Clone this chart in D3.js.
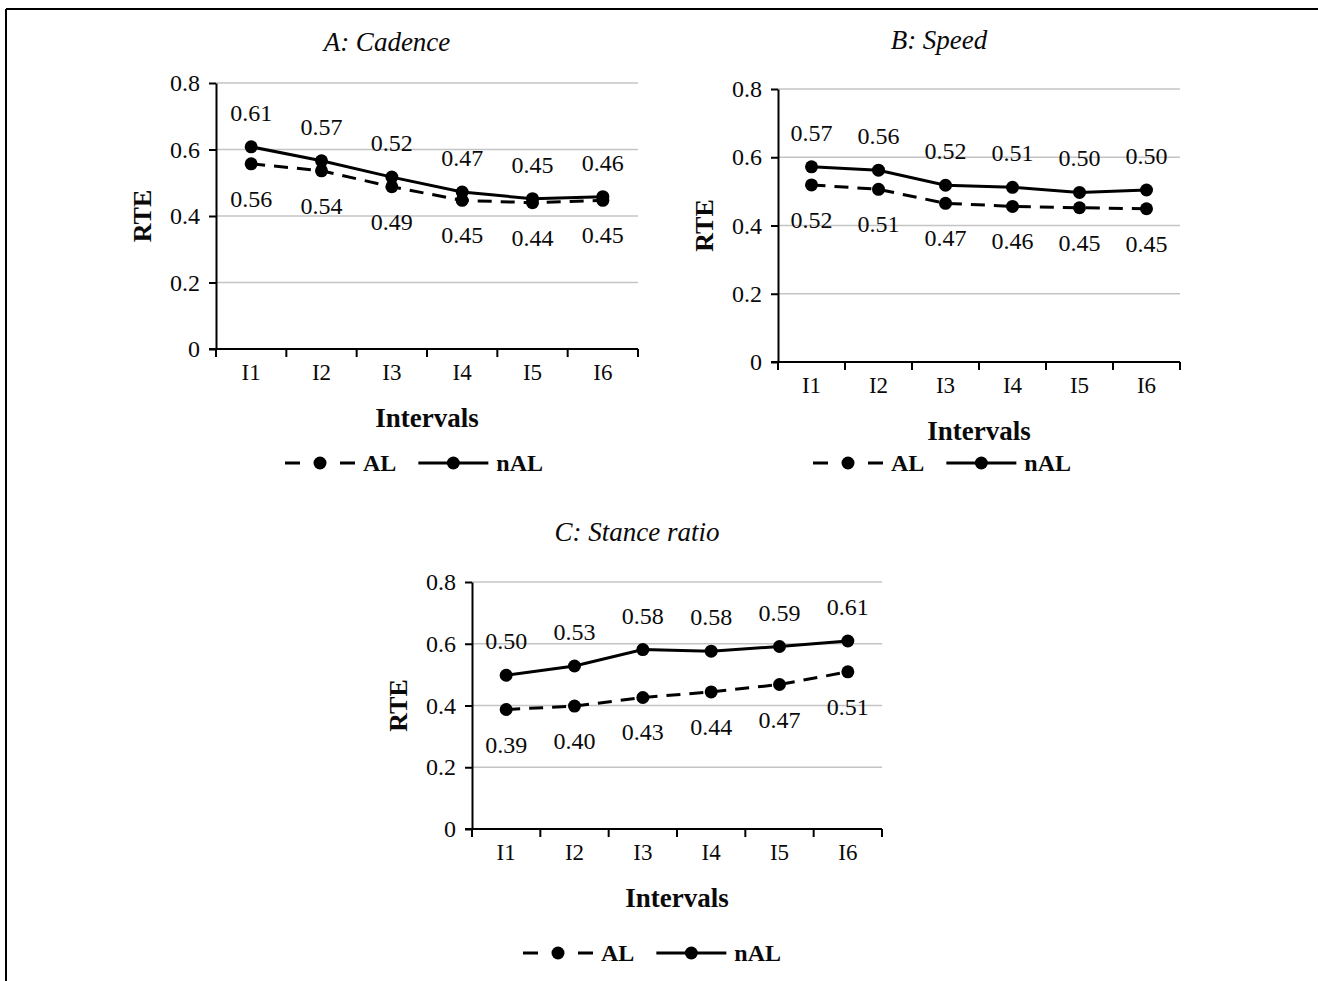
<!DOCTYPE html>
<html>
<head>
<meta charset="utf-8">
<script src="https://cdn.jsdelivr.net/npm/d3@7"></script>
<style>
  body { margin: 0; background: #fff; }
  svg { display: block; font-family: "Liberation Serif", "Times New Roman", serif; }
</style>
</head>
<body>
<svg id="chart" width="1318" height="981"></svg>
<script>
// RTE per interval, AL vs nAL, three panels
const intervals = ['I1', 'I2', 'I3', 'I4', 'I5', 'I6'];
const yTicks = [0, 0.2, 0.4, 0.6, 0.8];
const seriesNames = ['AL', 'nAL'];

const cadenceAL  = [0.557, 0.536, 0.488, 0.447, 0.440, 0.447];
const cadenceNAL = [0.608, 0.566, 0.517, 0.472, 0.452, 0.458];
const speedAL    = [0.519, 0.506, 0.465, 0.456, 0.452, 0.449];
const speedNAL   = [0.572, 0.562, 0.518, 0.512, 0.497, 0.504];
const stanceAL   = [0.387, 0.398, 0.426, 0.444, 0.468, 0.509];
const stanceNAL  = [0.498, 0.528, 0.581, 0.576, 0.591, 0.609];

const panelTitles = ['A: Cadence', 'B: Speed', 'C: Stance ratio'];

// layout of each panel (pixels)
const panels = [
  { title: panelTitles[0], al: cadenceAL, nal: cadenceNAL,
    left: 216, right: 638, top: 83, bottom: 349, titleY: 42, legendX: 285, legendY: 463 },
  { title: panelTitles[1], al: speedAL, nal: speedNAL,
    left: 778, right: 1180, top: 89, bottom: 362, titleY: 40, legendX: 813, legendY: 463 },
  { title: panelTitles[2], al: stanceAL, nal: stanceNAL,
    left: 472, right: 882, top: 582, bottom: 829, titleY: 532, legendX: 523, legendY: 953 }
];

const svg = d3.select('#chart');
const dash = '14,9';
const ink = '#0a0a0a';

// frame (top + left edges only)
svg.append('line').attr('x1', 6).attr('x2', 1318).attr('y1', 9).attr('y2', 9)
  .attr('stroke', '#000').attr('stroke-width', 2);
svg.append('line').attr('x1', 6).attr('x2', 6).attr('y1', 9).attr('y2', 981)
  .attr('stroke', '#000').attr('stroke-width', 2);

function drawPanel(p) {
  const g = svg.append('g');
  const x = d3.scaleBand().domain(intervals).range([p.left, p.right]).padding(0);
  const y = d3.scaleLinear().domain([0, 0.8]).range([p.bottom, p.top]);
  const cx = d => x(d) + x.bandwidth() / 2;
  const midX = (p.left + p.right) / 2;

  // gridlines
  g.selectAll('.grid')
    .data(yTicks.filter(t => t > 0))
    .enter().append('line')
    .attr('x1', p.left).attr('x2', p.right)
    .attr('y1', d => y(d)).attr('y2', d => y(d))
    .attr('stroke', '#c4c4c4').attr('stroke-width', 1.6);

  // y axis
  const yAxis = d3.axisLeft(y).tickValues(yTicks).tickSize(7).tickSizeOuter(0)
    .tickFormat(d => d === 0 ? '0' : d.toFixed(1));
  const ya = g.append('g').attr('transform', `translate(${p.left},0)`).call(yAxis);
  ya.select('.domain').attr('stroke', '#000').attr('stroke-width', 2);
  ya.selectAll('.tick line').attr('stroke', '#000').attr('stroke-width', 2);
  ya.selectAll('.tick text').attr('x', -16).attr('font-size', 24)
    .attr('font-family', '"Liberation Serif", serif').attr('fill', ink);

  // x axis: labels at centres, ticks at band edges
  const xAxis = d3.axisBottom(x).tickSize(0).tickSizeOuter(0);
  const xa = g.append('g').attr('transform', `translate(0,${p.bottom})`).call(xAxis);
  xa.select('.domain').remove();
  xa.selectAll('.tick text').attr('y', 15).attr('font-size', 23)
    .attr('font-family', '"Liberation Serif", serif').attr('fill', ink);
  g.append('line').attr('x1', p.left - 7).attr('x2', p.right)
    .attr('y1', p.bottom).attr('y2', p.bottom)
    .attr('stroke', '#000').attr('stroke-width', 2);
  const edges = intervals.map(d => x(d)).concat([x.range()[1]]);
  g.selectAll('.xedge').data(edges).enter().append('line')
    .attr('x1', d => d).attr('x2', d => d)
    .attr('y1', p.bottom).attr('y2', p.bottom + 8)
    .attr('stroke', '#000').attr('stroke-width', 2);

  // series lines
  const line = d3.line().x((d, i) => cx(intervals[i])).y(d => y(d));
  g.append('path').datum(p.al).attr('d', line).attr('fill', 'none')
    .attr('stroke', '#000').attr('stroke-width', 3).attr('stroke-dasharray', dash);
  g.append('path').datum(p.nal).attr('d', line).attr('fill', 'none')
    .attr('stroke', '#000').attr('stroke-width', 3);

  [p.al, p.nal].forEach((vals, si) => {
    g.selectAll(null).data(vals).enter().append('circle')
      .attr('cx', (d, i) => cx(intervals[i])).attr('cy', d => y(d))
      .attr('r', 6.5).attr('fill', '#000');
    g.selectAll(null).data(vals).enter().append('text')
      .attr('x', (d, i) => cx(intervals[i]))
      .attr('y', d => si === 0 ? y(d) + 35 : y(d) - 34)
      .attr('text-anchor', 'middle').attr('dominant-baseline', 'central')
      .attr('font-size', 24).attr('fill', ink)
      .text(d => d.toFixed(2));
  });

  // titles
  g.append('text').attr('x', midX - 40).attr('y', p.titleY)
    .attr('text-anchor', 'middle').attr('dominant-baseline', 'central')
    .attr('font-style', 'italic').attr('font-size', 27).attr('fill', ink)
    .text(p.title);
  g.append('text').attr('x', midX).attr('y', p.bottom + 69)
    .attr('text-anchor', 'middle').attr('dominant-baseline', 'central')
    .attr('font-weight', 'bold').attr('font-size', 27).attr('fill', ink)
    .text('Intervals');
  g.append('text')
    .attr('transform', `translate(${p.left - 74},${(p.top + p.bottom) / 2}) rotate(-90)`)
    .attr('text-anchor', 'middle').attr('dominant-baseline', 'central')
    .attr('font-weight', 'bold').attr('font-size', 26).attr('fill', ink)
    .text('RTE');

  // legend
  let lx = p.legendX;
  seriesNames.forEach((name, si) => {
    const ly = p.legendY;
    g.append('line').attr('x1', lx).attr('x2', lx + 70).attr('y1', ly).attr('y2', ly)
      .attr('stroke', '#000').attr('stroke-width', 3)
      .attr('stroke-dasharray', si === 0 ? '15,40,15' : null);
    g.append('circle').attr('cx', lx + 35).attr('cy', ly).attr('r', 6.5).attr('fill', '#000');
    const t = g.append('text').attr('x', lx + 78).attr('y', ly)
      .attr('dominant-baseline', 'central')
      .attr('font-weight', 'bold').attr('font-size', 24).attr('fill', ink)
      .text(name);
    lx += 78 + t.node().getComputedTextLength() + 22;
  });
}

panels.forEach(drawPanel);
</script>
</body>
</html>
